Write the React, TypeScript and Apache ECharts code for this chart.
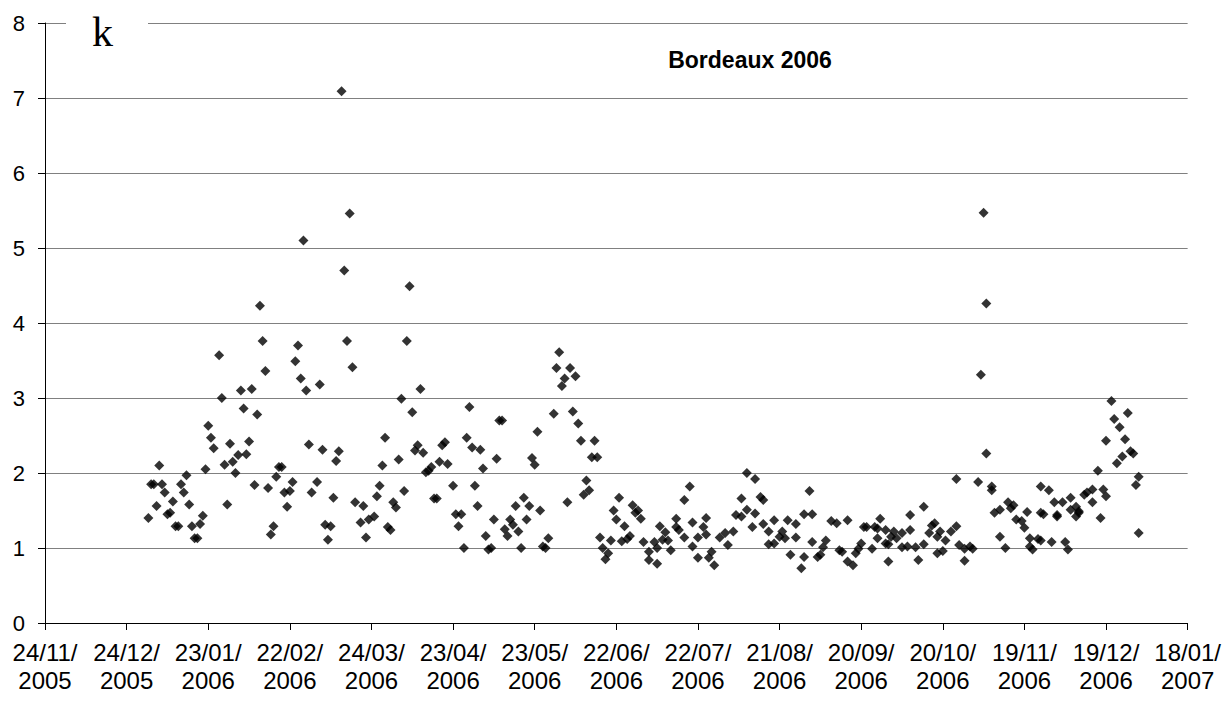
import React, { useEffect, useRef } from "react";
import * as echarts from "echarts";

// Day index (0 = 01/01/2006) and k value for each observation
const days = [
  0, 1, 2, 3, 4, 5, 6, 7, 8, 9, 10, 11, 12, 13, 14, 15, 16, 17, 18, 19, 20, 21, 22, 23, 24, 26, 27, 28, 29, 30,
  31, 32, 33, 34, 35, 36, 37, 38, 39, 40, 41, 42, 43, 44, 45, 46, 47, 48, 49, 50, 51, 52, 53, 54, 55, 56, 57, 58, 59, 60,
  62, 63, 64, 65, 66, 67, 68, 69, 70, 71, 72, 73, 74, 75, 76, 78, 79, 80, 81, 83, 84, 85, 86, 87, 88, 89, 90, 91, 92, 93,
  94, 95, 96, 97, 98, 99, 100, 101, 102, 103, 104, 105, 106, 107, 108, 109, 110, 112, 113, 114, 115, 116, 117, 118, 119, 120, 121, 122, 123, 124,
  125, 126, 127, 128, 129, 130, 131, 132, 133, 134, 135, 136, 137, 138, 139, 140, 141, 142, 143, 144, 145, 146, 147, 149, 150, 151, 152, 153, 154, 155,
  156, 157, 158, 159, 160, 161, 162, 163, 164, 165, 166, 167, 168, 169, 170, 171, 172, 173, 174, 175, 176, 177, 178, 179, 180, 181, 182, 184, 184, 186,
  187, 187, 188, 189, 190, 191, 192, 194, 194, 195, 197, 197, 199, 200, 200, 202, 202, 204, 205, 205, 206, 207, 208, 210, 212, 213, 215, 216, 218, 218,
  220, 220, 222, 223, 223, 225, 226, 226, 228, 228, 230, 230, 232, 233, 234, 235, 236, 238, 238, 240, 241, 241, 243, 244, 244, 246, 247, 248, 249, 251,
  253, 254, 255, 257, 257, 259, 260, 261, 262, 263, 264, 266, 267, 268, 268, 269, 271, 271, 272, 272, 273, 274, 275, 277, 277, 279, 280, 280, 282, 283,
  285, 285, 287, 288, 289, 290, 290, 291, 292, 293, 295, 297, 297, 298, 300, 300, 302, 303, 305, 306, 307, 308, 308, 310, 310, 311, 313, 313, 315, 316,
  317, 318, 319, 321, 322, 323, 324, 324, 325, 327, 328, 328, 328, 329, 331, 332, 333, 334, 334, 336, 337, 338, 339, 339, 341, 341, 342, 342, 344, 345,
  347, 347, 349, 350, 351, 352, 352, 354, 355, 356, 357, 358, 359, 360, 361, 362, 363, 364, 364,
];

const kValues = [
  1.40, 1.85, 1.85, 1.56, 2.10, 1.85, 1.74, 1.45, 1.47, 1.62, 1.29, 1.29, 1.85, 1.74, 1.97, 1.58, 1.29, 1.13, 1.13, 1.32, 1.43, 2.05, 2.63, 2.47, 2.33, 3.57, 3.00, 2.11, 1.58, 2.39,
  2.15, 2.00, 2.24, 3.10, 2.86, 2.25, 2.42, 3.12, 1.84, 2.78, 4.23, 3.76, 3.36, 1.80, 1.18, 1.29, 1.95, 2.08, 2.08, 1.74, 1.55, 1.76, 1.88, 3.49, 3.70, 3.26, 5.10, 3.10, 2.38, 1.74,
  1.88, 3.18, 2.31, 1.31, 1.11, 1.29, 1.67, 2.16, 2.29, 7.09, 4.70, 3.76, 5.46, 3.41, 1.61, 1.34, 1.56, 1.14, 1.38, 1.42, 1.69, 1.83, 2.10, 2.47, 1.28, 1.24, 1.61, 1.54, 2.18, 2.99,
  1.76, 3.76, 4.49, 2.81, 2.30, 2.37, 3.12, 2.27, 2.01, 2.03, 2.08, 1.66, 1.66, 2.15, 2.37, 2.41, 2.12, 1.83, 1.45, 1.29, 1.45, 1.00, 2.47, 2.88, 2.34, 1.83, 1.56, 2.31, 2.06, 1.16,
  0.98, 1.00, 1.38, 2.19, 2.70, 2.70, 1.25, 1.16, 1.38, 1.31, 1.56, 1.22, 1.00, 1.67, 1.38, 1.56, 2.20, 2.11, 2.55, 1.50, 1.02, 1.00, 1.13, 2.79, 3.40, 3.61, 3.16, 3.26, 1.61, 3.40,
  2.82, 3.29, 2.66, 2.43, 1.71, 1.90, 1.77, 2.21, 2.43, 2.21, 1.14, 1.00, 0.85, 0.93, 1.10, 1.50, 1.38, 1.67, 1.09, 1.29, 1.12, 1.16, 1.57, 1.47, 1.50, 1.39, 1.08, 0.84, 0.95, 1.08,
  0.79, 1.00, 1.29, 1.11, 1.21, 1.10, 0.97, 1.28, 1.39, 1.24, 1.14, 1.64, 1.82, 1.34, 1.02, 1.14, 0.87, 1.28, 1.40, 1.18, 0.87, 0.95, 0.77, 1.14, 1.20, 1.04, 1.22, 1.44, 1.66, 1.42,
  1.51, 2.00, 1.28, 1.46, 1.92, 1.68, 1.64, 1.32, 1.05, 1.22, 1.37, 1.06, 1.15, 1.22, 1.13, 1.37, 0.91, 1.14, 1.32, 0.73, 0.88, 1.45, 1.76, 1.45, 1.08, 0.88, 0.91, 1.01, 1.10, 1.36,
  1.33, 0.97, 0.95, 0.82, 1.37, 0.77, 0.93, 0.99, 1.06, 1.28, 1.28, 0.99, 1.28, 1.13, 1.26, 1.39, 1.24, 1.06, 1.05, 0.82, 1.15, 1.22, 1.13, 1.01, 1.20, 1.02, 1.24, 1.44, 1.01, 0.84,
  1.55, 1.05, 1.20, 1.30, 1.33, 1.15, 0.93, 1.22, 0.96, 1.10, 1.22, 1.92, 1.29, 1.04, 0.99, 0.83, 1.02, 0.99, 1.88, 3.31, 5.47, 4.26, 2.26, 1.77, 1.82, 1.47, 1.15, 1.51, 1.00, 1.61,
  1.53, 1.57, 1.38, 1.36, 1.27, 1.48, 1.02, 1.13, 0.98, 1.12, 1.10, 1.82, 1.47, 1.45, 1.77, 1.08, 1.61, 1.44, 1.42, 1.61, 1.08, 0.98, 1.51, 1.67, 1.42, 1.55, 1.49, 1.47, 1.71, 1.74,
  1.78, 1.61, 2.03, 1.40, 1.78, 1.69, 2.43, 2.96, 2.72, 2.13, 2.61, 2.22, 2.45, 2.80, 2.29, 2.26, 1.84, 1.95, 1.20,
];

// x axis: days since 24/11/2005; 01/01/2006 is day 38
const dayOffset = 38;
const tickLabels = [
  "24/11/\n2005", "24/12/\n2005", "23/01/\n2006", "22/02/\n2006", "24/03/\n2006",
  "23/04/\n2006", "23/05/\n2006", "22/06/\n2006", "22/07/\n2006", "21/08/\n2006",
  "20/09/\n2006", "20/10/\n2006", "19/11/\n2006", "19/12/\n2006", "18/01/\n2007",
];
const yTicks = [0, 1, 2, 3, 4, 5, 6, 7, 8];
const chartTitle = "Bordeaux 2006";
const yName = "k";

export default function App() {
  const ref = useRef<HTMLDivElement>(null);
  useEffect(() => {
    if (!ref.current) return;
    const chart = echarts.init(ref.current, undefined, { renderer: "svg" });
    const data = days.map((d, i) => [d + dayOffset, kValues[i]]);
    const font = "'Liberation Sans', Arial, sans-serif";
    chart.setOption({
      animation: false,
      backgroundColor: "#ffffff",
      grid: { left: 45, right: 29, top: 23, bottom: 79, containLabel: false },
      xAxis: {
        type: "value",
        min: 0,
        max: (tickLabels.length - 1) * 30,
        interval: 30,
        axisLine: { show: true, lineStyle: { color: "#000", width: 1 } },
        axisTick: { show: true, length: 7, lineStyle: { color: "#000" } },
        splitLine: { show: false },
        axisLabel: {
          showMinLabel: true,
          showMaxLabel: true,
          hideOverlap: false,
          margin: 15,
          color: "#000",
          fontFamily: font,
          fontSize: 24,
          lineHeight: 28,
          formatter: (v: number) => tickLabels[Math.round(v / 30)] ?? "",
        },
      },
      yAxis: {
        type: "value",
        min: yTicks[0],
        max: yTicks[yTicks.length - 1],
        interval: 1,
        axisLine: { show: true, lineStyle: { color: "#000", width: 1 } },
        axisTick: { show: true, length: 7, lineStyle: { color: "#000" } },
        splitLine: { show: true, lineStyle: { color: "#808080", width: 1 } },
        axisLabel: {
          margin: 20,
          color: "#000",
          fontFamily: font,
          fontSize: 22,
        },
      },
      graphic: [
        {
          type: "rect",
          shape: { x: 66, y: 0, width: 82, height: 60 },
          style: { fill: "#ffffff" },
          z: 100,
        },
        {
          type: "text",
          x: 92,
          y: 53,
          z: 101,
          style: {
            text: yName,
            fill: "#000",
            font: "42px 'Liberation Serif', 'Times New Roman', serif",
            textVerticalAlign: "bottom",
          },
        },
        {
          type: "text",
          x: 750,
          y: 60,
          z: 101,
          style: {
            text: chartTitle,
            fill: "#000",
            font: "bold 23px 'Liberation Sans', Arial, sans-serif",
            textAlign: "center",
            textVerticalAlign: "middle",
          },
        },
      ],
      series: [
        {
          type: "scatter",
          data,
          symbol: "diamond",
          symbolSize: 10,
          itemStyle: { color: "#000" },
        },
      ],
    });
    return () => chart.dispose();
  }, []);
  return (
    <div
      ref={ref}
      style={{ position: "absolute", left: 0, top: 0, width: 1224, height: 702 }}
    />
  );
}
